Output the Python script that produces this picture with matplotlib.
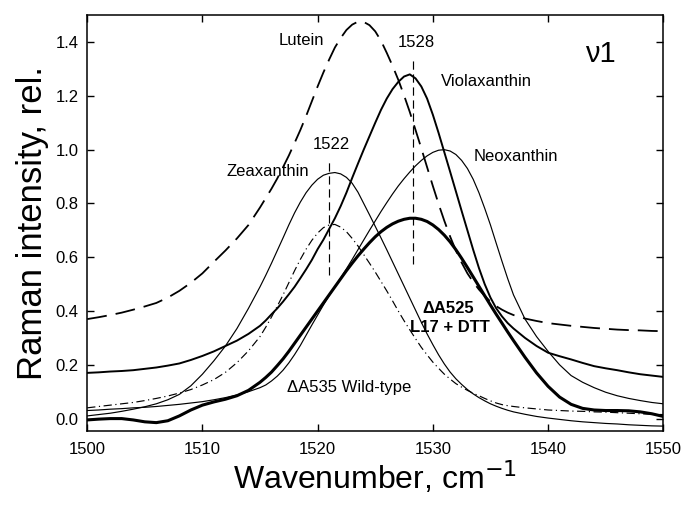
import numpy as np
import matplotlib
matplotlib.use('Agg')
import matplotlib.pyplot as plt

plt.rcParams['font.family'] = ['Liberation Sans', 'DejaVu Sans']

# wavenumber grid (cm-1) shared by all curves, finer around the peaks
wn = [1500, 1501, 1502, 1503, 1504, 1505, 1506, 1507, 1508, 1509, 1510, 1511, 1512, 1513, 1514,
      1515, 1515.5, 1516, 1516.5, 1517, 1517.5, 1518, 1518.5, 1519, 1519.5,
      1520, 1520.5, 1521, 1521.5, 1522, 1522.5, 1523, 1523.5, 1524, 1524.5,
      1525, 1525.5, 1526, 1526.5, 1527, 1527.5, 1528, 1528.5, 1529, 1529.5,
      1530, 1530.5, 1531, 1531.5, 1532, 1532.5, 1533, 1533.5, 1534, 1534.5,
      1535, 1535.5, 1536, 1536.5, 1537,
      1538, 1539, 1540, 1541, 1542, 1543, 1544, 1545, 1546, 1547, 1548, 1549, 1550]

lutein = [.37, .377, .385, .394, .405, .417, .43, .45, .475, .505, .54, .583, .625, .67, .72,
          .785, .82, .855, .893, .935, .978, 1.025, 1.073, 1.125, 1.18,
          1.235, 1.287, 1.335, 1.38, 1.415, 1.445, 1.465, 1.476, 1.475, 1.463,
          1.44, 1.405, 1.36, 1.312, 1.26, 1.202, 1.14, 1.073, 1.005, .935,
          .865, .798, .735, .677, .625, .58, .54, .508, .48, .456,
          .435, .418, .405, .394, .385,
          .372, .363, .355, .35, .345, .341, .337, .334, .331, .329, .328, .326, .325]

violaxanthin = [.17, .172, .175, .177, .18, .185, .19, .197, .205, .218, .233, .25, .27, .29, .315,
                .345, .365, .388, .41, .435, .462, .49, .522, .555, .59,
                .63, .665, .705, .745, .79, .84, .895, .948, 1.0, 1.05,
                1.10, 1.148, 1.19, 1.225, 1.252, 1.272, 1.28, 1.265, 1.235, 1.19,
                1.13, 1.062, .99, .918, .845, .772, .70, .628, .56, .50,
                .45, .41, .38, .355, .335,
                .30, .27, .245, .232, .22, .207, .195, .187, .18, .172, .165, .16, .155]

zeaxanthin = [.01, .015, .02, .027, .035, .044, .055, .07, .09, .122, .165, .215, .27, .335, .41,
              .49, .533, .578, .625, .672, .72, .765, .805, .84, .868,
              .89, .905, .912, .915, .91, .897, .875, .842, .80, .758,
              .715, .672, .628, .583, .538, .493, .448, .403, .358, .315,
              .275, .237, .203, .173, .148, .127, .108, .092, .078, .066,
              .055, .046, .038, .031, .025,
              .016, .008, .002, -.003, -.008, -.012, -.015, -.018, -.02, -.023, -.025, -.027, -.028]

neoxanthin = [.03, .032, .035, .037, .04, .042, .045, .049, .053, .058, .063, .07, .078, .088, .10,
              .115, .125, .14, .158, .18, .207, .238, .272, .31, .348,
              .385, .422, .457, .49, .523, .557, .592, .628, .664, .70,
              .735, .77, .803, .835, .865, .892, .917, .94, .96, .977,
              .99, .998, 1.0, .995, .982, .96, .93, .89, .84, .782,
              .72, .652, .585, .52, .46,
              .37, .305, .25, .20, .16, .135, .115, .098, .085, .075, .067, .06, .055]

dA525 = [-.005, -.002, 0.0, 0.0, -.005, -.012, -.015, -.008, .01, .032, .05, .062, .072, .085, .105,
         .135, .153, .173, .197, .222, .25, .28, .31, .34, .37,
         .40, .43, .46, .49, .52, .55, .578, .605, .63, .654,
         .676, .695, .711, .724, .734, .741, .745, .745, .741, .733,
         .72, .703, .682, .657, .628, .596, .562, .527, .492, .457,
         .422, .388, .355, .322, .29,
         .228, .17, .12, .08, .053, .038, .032, .03, .03, .029, .025, .018, .008]

dA535 = [.04, .045, .05, .055, .06, .067, .075, .084, .095, .108, .125, .145, .172, .208, .252,
         .305, .34, .378, .418, .46, .505, .55, .592, .63, .663,
         .69, .71, .72, .722, .712, .695, .67, .642, .61, .578,
         .545, .51, .475, .438, .40, .364, .33, .297, .265, .237,
         .21, .187, .165, .147, .13, .117, .105, .094, .085, .075,
         .066, .058, .052, .048, .045,
         .04, .036, .032, .03, .028, .027, .025, .024, .022, .02, .018, .016, .015]

# peak markers: position, bottom, top
marker_pos = [1521.0, 1528.25]
marker_lo = [0.535, 0.575]
marker_hi = [0.965, 1.335]

fig = plt.figure(figsize=(6.81, 5.07), dpi=100)
ax = fig.add_axes([0.128, 0.1505, 0.846, 0.8195])

ax.plot(wn, lutein, color='black', lw=1.3, dashes=(11, 5))
ax.plot(wn, violaxanthin, color='black', lw=1.4)
ax.plot(wn, zeaxanthin, color='black', lw=0.85)
ax.plot(wn, neoxanthin, color='black', lw=0.85)
ax.plot(wn, dA535, color='black', lw=0.85, dashes=(7, 3, 1, 3))
ax.plot(wn, dA525, color='black', lw=2.2)

for x, lo, hi in zip(marker_pos, marker_lo, marker_hi):
    ax.plot([x, x], [lo, hi], color='black', lw=0.85, dashes=(7, 4))

# labels on the curves
fs = 12
ax.text(1518.6, 1.405, 'Lutein', fontsize=fs, ha='center', va='center')
ax.text(1528.6, 1.40, '1528', fontsize=fs, ha='center', va='center')
ax.text(1530.7, 1.255, 'Violaxanthin', fontsize=fs, ha='left', va='center')
ax.text(1521.2, 1.02, '1522', fontsize=fs, ha='center', va='center')
ax.text(1533.5, 0.974, 'Neoxanthin', fontsize=fs, ha='left', va='center')
ax.text(1512.1, 0.917, 'Zeaxanthin', fontsize=fs, ha='left', va='center')
ax.text(1531.3, 0.41, '\u0394A525', fontsize=fs, ha='center', va='center', fontweight='bold')
ax.text(1531.5, 0.34, 'L17 + DTT', fontsize=fs, ha='center', va='center', fontweight='bold')
ax.text(1522.7, 0.117, '\u0394A535 Wild-type', fontsize=fs, ha='center', va='center')
ax.text(1544.5, 1.355, '\u03bd1', fontsize=21, ha='center', va='center')

ax.set_xlim(1500, 1550)
ax.set_ylim(-0.045, 1.5)
ax.set_xticks([1500, 1510, 1520, 1530, 1540, 1550])
ax.set_yticks([0.0, 0.2, 0.4, 0.6, 0.8, 1.0, 1.2, 1.4])
ax.yaxis.set_major_formatter(matplotlib.ticker.FormatStrFormatter('%.1f'))
ax.tick_params(direction='in', top=True, right=True, length=5, width=1, labelsize=12)
ax.tick_params(axis='x', pad=8)
ax.tick_params(axis='y', pad=6)
for s in ax.spines.values():
    s.set_linewidth(1.1)

ax.set_xlabel('Wavenumber, cm$^{-1}$', fontsize=23, labelpad=2)
ax.set_ylabel('Raman intensity, rel.', fontsize=25, labelpad=5)

plt.savefig('out.png', dpi=100)
